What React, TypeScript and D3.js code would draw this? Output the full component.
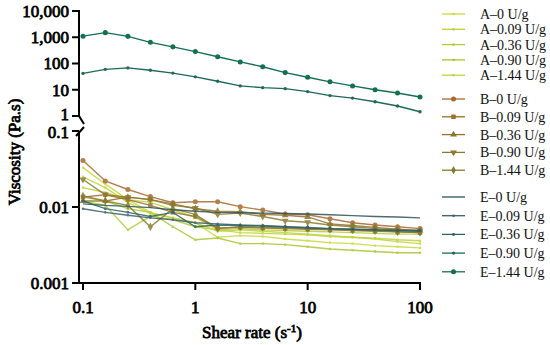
import React from 'react';
import * as d3 from 'd3';

// shear rates, 5 per decade
const shear = [0.1, 0.158, 0.251, 0.398, 0.631, 1, 1.58, 2.51, 3.98, 6.31, 10, 15.8, 25.1, 39.8, 63.1, 100];

// upper panel (high viscosity)
const e090 = [42, 60, 68, 55, 43, 31, 21, 14, 12, 11, 8.5, 6, 4.8, 3.5, 2.4, 1.45];
const e144 = [1100, 1500, 1080, 640, 430, 285, 180, 115, 75, 45, 30, 20, 14, 10, 7.5, 5.3];

// lower panel
const a0 = [0.033, 0.02, 0.0125, 0.0085, 0.0072, 0.0062, 0.004, 0.0042, 0.0041, 0.0038, 0.0036, 0.0034, 0.0033, 0.0031, 0.003, 0.0029];
const a009 = [0.018, 0.0155, 0.0125, 0.0115, 0.0092, 0.0073, 0.005, 0.0046, 0.0045, 0.0044, 0.0043, 0.0041, 0.004, 0.0039, 0.0037, 0.0036];
const a036 = [0.012, 0.0105, 0.005, 0.0076, 0.0068, 0.0055, 0.005, 0.0052, 0.005, 0.0049, 0.0048, 0.0047, 0.0046, 0.0045, 0.0044, 0.0044];
const a090 = [0.0135, 0.012, 0.0095, 0.0085, 0.0055, 0.0037, 0.0039, 0.0033, 0.0033, 0.0032, 0.003, 0.0028, 0.0027, 0.0026, 0.0025, 0.0025];
const a144 = [0.025, 0.018, 0.0115, 0.0082, 0.0072, 0.0062, 0.0048, 0.005, 0.0048, 0.0046, 0.0044, 0.0042, 0.004, 0.0038, 0.0035, 0.0033];
const b0 = [0.041, 0.022, 0.017, 0.0137, 0.0114, 0.0117, 0.0117, 0.0101, 0.0091, 0.0081, 0.0079, 0.007, 0.0062, 0.0058, 0.0055, 0.0052];
const b009 = [0.0135, 0.0145, 0.0125, 0.0105, 0.0085, 0.0075, 0.0053, 0.0054, 0.0053, 0.0052, 0.0051, 0.005, 0.0049, 0.0048, 0.0047, 0.0046];
const b036 = [0.012, 0.012, 0.0135, 0.0125, 0.011, 0.0095, 0.0088, 0.0087, 0.008, 0.0078, 0.0074, 0.006, 0.0057, 0.0054, 0.0051, 0.0049];
const b090 = [0.023, 0.0145, 0.0135, 0.0125, 0.0105, 0.0097, 0.008, 0.0083, 0.0075, 0.0066, 0.0063, 0.0058, 0.0055, 0.0052, 0.005, 0.0048];
const b144 = [0.014, 0.012, 0.0105, 0.0055, 0.0095, 0.008, 0.0052, 0.0055, 0.0054, 0.0053, 0.0052, 0.0051, 0.005, 0.0049, 0.0047, 0.0046];
const e0 = [0.011, 0.0105, 0.0102, 0.0098, 0.0092, 0.0088, 0.0085, 0.0084, 0.0083, 0.0082, 0.0081, 0.0079, 0.0077, 0.0075, 0.0074, 0.0072];
const e009 = [0.0095, 0.0085, 0.0078, 0.0072, 0.0068, 0.0062, 0.006, 0.0058, 0.0057, 0.0055, 0.0053, 0.0052, 0.0051, 0.005, 0.0049, 0.0048];
const e036 = [0.012, 0.0095, 0.0085, 0.0075, 0.0085, 0.0055, 0.0058, 0.0057, 0.0056, 0.0055, 0.0054, 0.0052, 0.0051, 0.005, 0.0049, 0.0049];

const topTicks = [1, 10, 100, 1000, 10000];
const bottomTicks = [0.001, 0.01, 0.1];
const xTicks = [0.1, 1, 10, 100];

type Series = { name: string; values: number[]; color: string; symbol: d3.SymbolType | null; size: number; panel: 'top' | 'bottom'; group: number };

const series: Series[] = [
  { name: 'A–0 U/g', values: a0, color: '#cdd83a', symbol: d3.symbolSquare, size: 5, panel: 'bottom', group: 0 },
  { name: 'A–0.09 U/g', values: a009, color: '#bfd233', symbol: d3.symbolSquare, size: 5, panel: 'bottom', group: 0 },
  { name: 'A–0.36 U/g', values: a036, color: '#b3cc36', symbol: d3.symbolSquare, size: 5, panel: 'bottom', group: 0 },
  { name: 'A–0.90 U/g', values: a090, color: '#a9c62e', symbol: d3.symbolSquare, size: 5, panel: 'bottom', group: 0 },
  { name: 'A–1.44 U/g', values: a144, color: '#bdd43e', symbol: d3.symbolSquare, size: 5, panel: 'bottom', group: 0 },
  { name: 'B–0 U/g', values: b0, color: '#a8692e', symbol: d3.symbolCircle, size: 20, panel: 'bottom', group: 1 },
  { name: 'B–0.09 U/g', values: b009, color: '#98702c', symbol: d3.symbolSquare, size: 20, panel: 'bottom', group: 1 },
  { name: 'B–0.36 U/g', values: b036, color: '#8e742e', symbol: d3.symbolTriangle, size: 20, panel: 'bottom', group: 1 },
  { name: 'B–0.90 U/g', values: b090, color: '#8c782e', symbol: d3.symbolTriangle, size: 20, panel: 'bottom', group: 1 },
  { name: 'B–1.44 U/g', values: b144, color: '#857c2c', symbol: d3.symbolDiamond, size: 20, panel: 'bottom', group: 1 },
  { name: 'E–0 U/g', values: e0, color: '#2f5256', symbol: null, size: 0, panel: 'bottom', group: 2 },
  { name: 'E–0.09 U/g', values: e009, color: '#3b5d6a', symbol: d3.symbolCircle, size: 5, panel: 'bottom', group: 2 },
  { name: 'E–0.36 U/g', values: e036, color: '#2b6462', symbol: d3.symbolCircle, size: 7, panel: 'bottom', group: 2 },
  { name: 'E–0.90 U/g', values: e090, color: '#1f6a56', symbol: d3.symbolCircle, size: 9, panel: 'top', group: 2 },
  { name: 'E–1.44 U/g', values: e144, color: '#137050', symbol: d3.symbolCircle, size: 20, panel: 'top', group: 2 },
];

const W = 550;
const H = 345;
const axisX = 79;
const axisY = 283;

const x = d3.scaleLog().domain([0.1, 100]).range([83, 420]);
const yTop = d3.scaleLog().domain([1, 10000]).range([116, 11]);
const yBot = d3.scaleLog().domain([0.001, 0.1]).range([283, 131]);

const groupStart = [14, 99, 197];
const groupStep = [15.3, 17.8, 18.7];

const fmt = (v: number) => (v >= 1 ? d3.format(',')(v) : String(v));

// heavy text: serif regular with a thin outline, reads like Times bold
const bold = { fontSize: 17, fill: '#000', stroke: '#000', strokeWidth: 0.8 };

export default function App() {
  const font = "'Liberation Serif', 'Times New Roman', serif";
  let idx = [0, 0, 0];
  return (
    <div style={{ position: 'absolute', left: 0, top: 0 }}>
      <svg width={W} height={H} style={{ display: 'block', background: '#fff', fontFamily: font }}>
        {/* data lines */}
        {series.map((s) => {
          const ys = s.panel === 'top' ? yTop : yBot;
          const line = d3.line<number>().x((_, i) => x(shear[i])).y((d) => ys(d));
          return (
            <g key={s.name} opacity={s.panel === 'top' ? 1 : 0.85}>
              <path d={line(s.values) || ''} fill="none" stroke={s.color} strokeWidth={1.4} />
              {s.symbol &&
                s.values.map((v, i) => (
                  <path
                    key={i}
                    d={d3.symbol(s.symbol as d3.SymbolType, s.size)() || ''}
                    transform={`translate(${x(shear[i])},${ys(v)})${s.name === 'B–0.90 U/g' ? ' rotate(180)' : ''}`}
                    fill={s.color}
                  />
                ))}
            </g>
          );
        })}

        {/* y axis top segment */}
        <line x1={axisX} x2={axisX} y1={yTop(10000) - 1} y2={yTop(1)} stroke="#000" strokeWidth={2} />
        <line x1={axisX} x2={84} y1={yTop(1)} y2={yTop(1) + 8} stroke="#000" strokeWidth={2} />
        {topTicks.map((t) => (
          <g key={t}>
            <line x1={axisX - 7} x2={axisX} y1={yTop(t)} y2={yTop(t)} stroke="#000" strokeWidth={2} />
            <text x={axisX - 10} y={yTop(t) - (t === 1 ? 2 : 0)} dy="0.35em" textAnchor="end" {...bold}>
              {fmt(t)}
            </text>
          </g>
        ))}

        {/* y axis bottom segment */}
        <line x1={axisX} x2={axisX} y1={yBot(0.1)} y2={axisY + 1} stroke="#000" strokeWidth={2} />
        <line x1={axisX - 3} x2={84} y1={yBot(0.1) + 5} y2={yBot(0.1) - 4} stroke="#000" strokeWidth={2} />
        {bottomTicks.map((t) => (
          <g key={t}>
            <line x1={axisX - 7} x2={axisX} y1={yBot(t)} y2={yBot(t)} stroke="#000" strokeWidth={2} />
            <text x={axisX - 10} y={yBot(t) + (t === 0.1 ? 1 : 0)} dy="0.35em" textAnchor="end" {...bold}>
              {fmt(t)}
            </text>
          </g>
        ))}

        {/* x axis */}
        <line x1={axisX - 1} x2={x(100) + 1} y1={axisY} y2={axisY} stroke="#000" strokeWidth={2} />
        {xTicks.map((t) => (
          <g key={t}>
            <line x1={x(t)} x2={x(t)} y1={axisY} y2={axisY + 7} stroke="#000" strokeWidth={2} />
            <text x={x(t)} y={313} textAnchor="middle" {...bold}>
              {fmt(t)}
            </text>
          </g>
        ))}

        {/* axis titles */}
        <text x={252} y={338} textAnchor="middle" {...bold}>
          Shear rate (s<tspan dy={-6} fontSize={11}>-1</tspan><tspan dy={6}>)</tspan>
        </text>
        <text transform="translate(20,152) rotate(-90)" textAnchor="middle" {...bold}>
          Viscosity (Pa.s)
        </text>

        {/* legend */}
        {series.map((s) => {
          const yy = groupStart[s.group] + groupStep[s.group] * idx[s.group]++;
          return (
            <g key={'lg' + s.name}>
              <line x1={442} x2={465} y1={yy} y2={yy} stroke={s.color} strokeWidth={1.3} />
              {s.symbol && (
                <path
                  d={d3.symbol(s.symbol as d3.SymbolType, s.size)() || ''}
                  transform={`translate(453.5,${yy})${s.name === 'B–0.90 U/g' ? ' rotate(180)' : ''}`}
                  fill={s.color}
                />
              )}
              <text x={480} y={yy} dy="0.35em" fontSize={14} fill="#111">
                {s.name}
              </text>
            </g>
          );
        })}
      </svg>
    </div>
  );
}
